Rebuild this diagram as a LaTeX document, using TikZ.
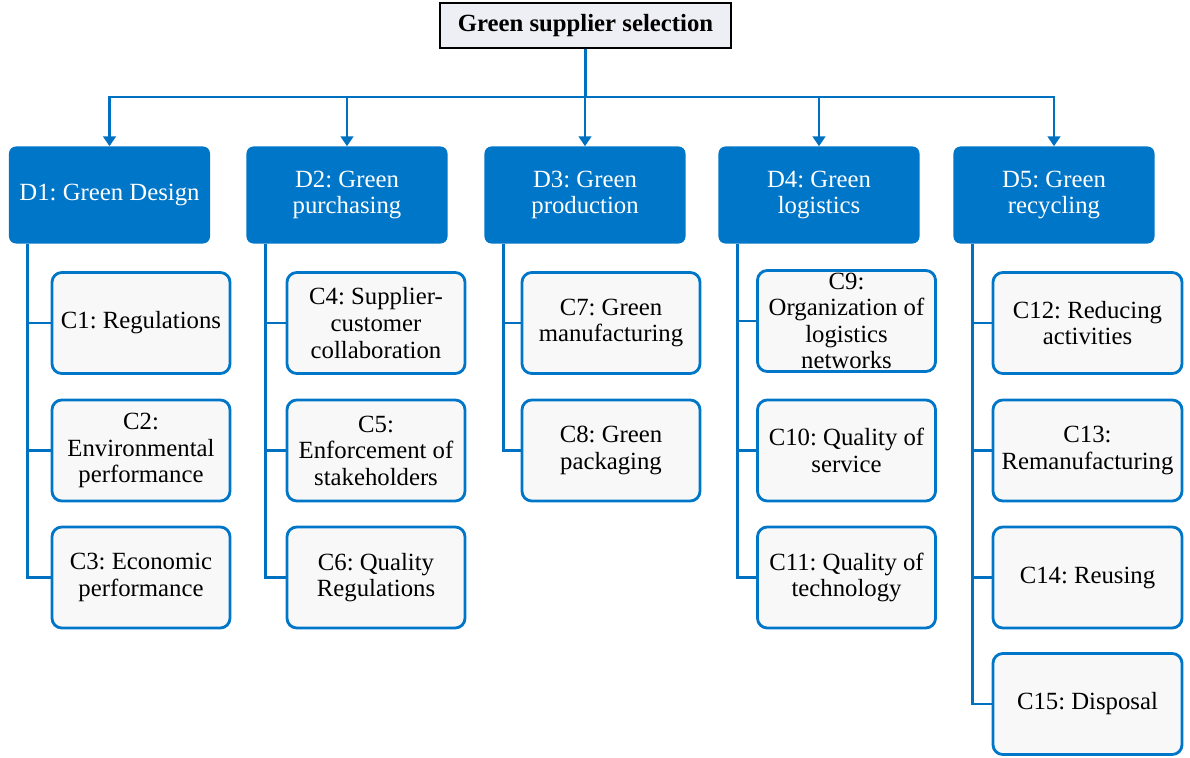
\documentclass[tikz,border=0pt]{standalone}
\usepackage{fontspec}
\setmainfont{Liberation Serif}
\usetikzlibrary{arrows.meta,positioning,calc}
\definecolor{critblue}{RGB}{0,118,200}
\definecolor{linkblue}{RGB}{0,112,192}
\definecolor{critfill}{RGB}{248,248,248}
\definecolor{goalfill}{RGB}{238,238,245}
\frenchspacing

\begin{document}
\begin{tikzpicture}[x=0.025cm, y=-0.025cm,
    goalbox/.style={draw=black, line width=1.4pt, fill=goalfill, minimum width=7.275cm,
        minimum height=1.125cm, font=\fontsize{17.6}{18.9}\selectfont\bfseries},
    dimbox/.style={fill=critblue, rounded corners=5pt, minimum width=5.025cm,
        minimum height=2.425cm, text=white, align=center,
        font=\fontsize{17.6}{18.9}\selectfont},
    critbox/.style={draw=critblue, line width=2pt, fill=critfill, rounded corners=7pt,
        minimum width=4.45cm, minimum height=2.525cm, align=center, inner sep=1pt,
        font=\fontsize{17.6}{18.9}\selectfont},
    link/.style={draw=linkblue, line width=2pt},
    linkarrow/.style={link, -{Triangle[width=9pt,length=7pt]}}]
    \useasboundingbox (0,0) rectangle (1190,757);
    % Goal
    \node[goalbox] (goal) at (585.5,25.5) {Green supplier selection};
    \coordinate (bus) at (585,97);
    % Dimensions
    \node[dimbox] (d1) at (109.5,195) {D1: Green Design};
    \node[dimbox] (d2) at (347,195) {D2: Green\\purchasing};
    \node[dimbox] (d3) at (585,195) {D3: Green\\production};
    \node[dimbox] (d4) at (819,195) {D4: Green\\logistics};
    \node[dimbox] (d5) at (1054,195) {D5: Green\\recycling};
    \foreach \d in {d1,d2,d3,d4,d5} {
        \draw[linkarrow] (goal.south) -- (goal.south |- bus) -| (\d.north);
    }
    % Criteria
    \node[critbox] (c1) at (141,323) {C1: Regulations};
    \node[critbox] (c2) at (141,450.5) {C2:\\Environmental\\performance};
    \node[critbox] (c3) at (141,577.5) {C3: Economic\\performance};
    \node[critbox] (c4) at (376,323) {C4: Supplier-\\customer\\collaboration};
    \node[critbox] (c5) at (376,450.5) {C5:\\Enforcement of\\stakeholders};
    \node[critbox] (c6) at (376,577.5) {C6: Quality\\Regulations};
    \node[critbox] (c7) at (611,323) {C7: Green\\manufacturing};
    \node[critbox] (c8) at (611,450.5) {C8: Green\\packaging};
    \node[critbox] (c9) at (846.5,321) {C9:\\Organization of\\logistics\\networks};
    \node[critbox] (c10) at (846.5,450.5) {C10: Quality of\\service};
    \node[critbox] (c11) at (846.5,577.5) {C11: Quality of\\technology};
    \node[critbox, minimum width=4.725cm] (c12) at (1087.5,323) {C12: Reducing\\activities};
    \node[critbox, minimum width=4.725cm] (c13) at (1087.5,450.5) {C13:\\Remanufacturing};
    \node[critbox, minimum width=4.725cm] (c14) at (1087.5,577.5) {C14: Reusing};
    \node[critbox, minimum width=4.725cm] (c15) at (1087.5,704) {C15: Disposal};
    % Trunks
    \foreach \d/\clist in {d1/{c1,c2,c3}, d2/{c4,c5,c6}, d3/{c7,c8},
        d4/{c9,c10,c11}, d5/{c12,c13,c14,c15}} {
        \foreach \c in \clist {
            \draw[link] ([xshift=0.475cm]\d.south west) |- (\c.west);
        }
    }
\end{tikzpicture}
\end{document}
